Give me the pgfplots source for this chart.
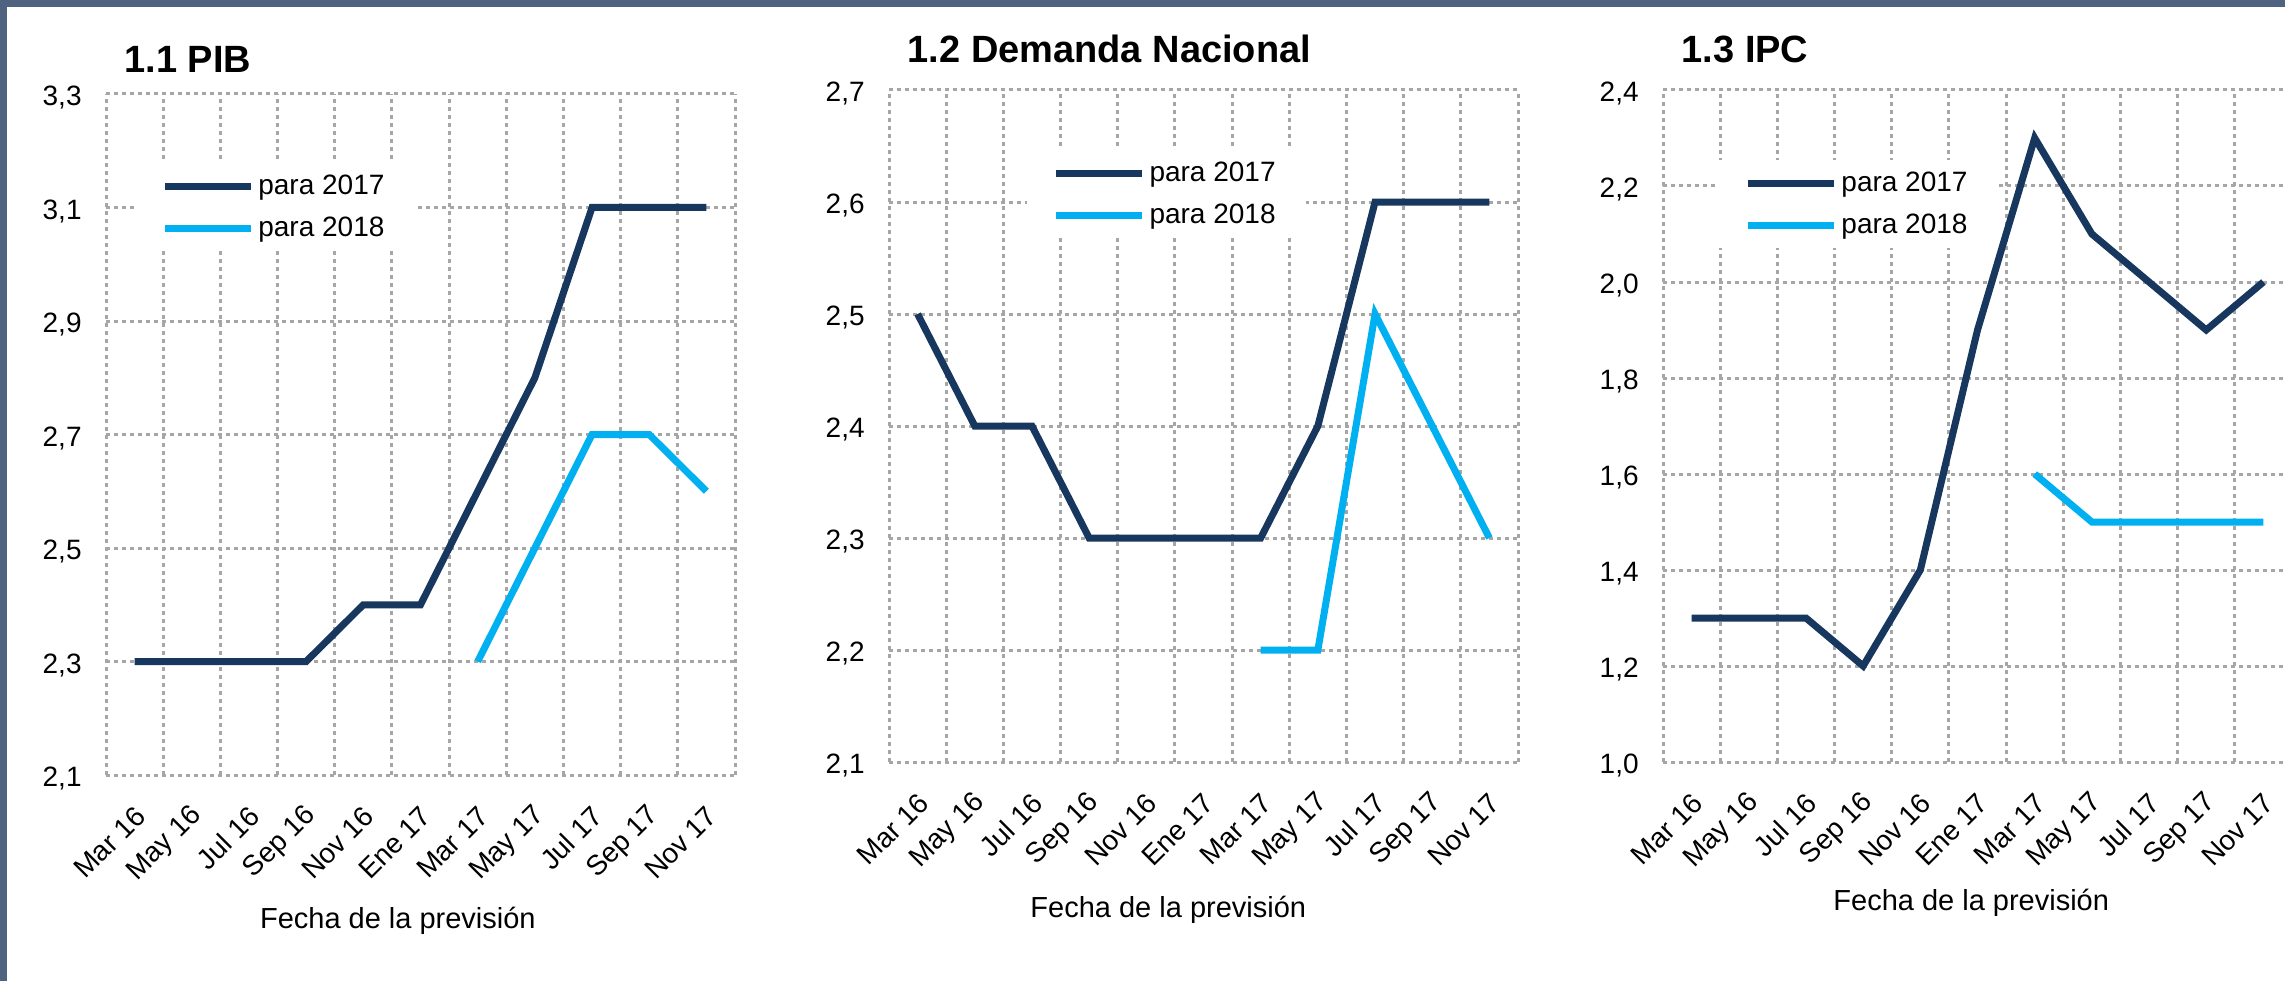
\documentclass[border=0pt]{standalone}
\usepackage{fontspec}
\setmainfont{Liberation Sans}
\usepackage{pgfplots}
\pgfplotsset{compat=1.18}
\definecolor{navy}{RGB}{23,55,94}
\definecolor{celeste}{RGB}{0,176,240}
\definecolor{marco}{RGB}{79,98,128}

\pgfplotsset{
  panel/.style={
    scale only axis, width=314.5pt, anchor=south west,
    xmin=-0.5, xmax=10.5,
    xtick={0,...,10},
    xticklabels={Mar 16,May 16,Jul 16,Sep 16,Nov 16,Ene 17,Mar 17,May 17,Jul 17,Sep 17,Nov 17},
    minor xtick={-0.5,0.5,...,10.5},
    xminorgrids=true, ymajorgrids=true,
    grid style={black!35, line width=1.5pt, dash pattern=on 2pt off 2pt},
    minor grid style={black!35, line width=1.5pt, dash pattern=on 2pt off 2pt},
    axis line style={draw=none},
    major tick length=0pt, minor tick length=0pt,
    tick label style={font=\fontsize{14}{16}\selectfont},
    xticklabel style={xshift=3pt, yshift=-18pt, rotate=45, anchor=east, inner sep=0pt},
    yticklabel style={anchor=east, inner sep=0pt, xshift=-12pt, yshift=-2pt,
      /pgf/number format/.cd, fixed, fixed zerofill, precision=1, use comma,
      assume math mode=true, /tikz/.cd},
    xlabel={Fecha de la previsión},
    label style={font=\fontsize{14.5}{17}\selectfont},
    every axis title shift=0pt,
    legend style={draw=none, fill=white, anchor=north west,
      font=\fontsize{14}{16}\selectfont, inner xsep=13pt, inner ysep=4pt,
      row sep=5.5pt, cells={anchor=west}},
    legend image code/.code={\draw[#1] (0pt,0pt) -- (43pt,0pt);},
    every axis plot/.append style={line width=3.5pt},
  },
  ptitle/.style 2 args={title={#1},
    title style={at={(axis description cs:0.029,1)}, anchor=base west,
      inner sep=0pt, yshift=#2, font=\bfseries\fontsize{19}{22}\selectfont}},
  plabel/.style 2 args={xlabel style={at={(axis description cs:#1,0)},
      anchor=base, inner sep=0pt, yshift=#2}},
}

\begin{document}
\begin{tikzpicture}
\path[use as bounding box] (0,0) rectangle (1142.5pt,490.5pt);
\clip (0,0) rectangle (1142.5pt,490.5pt);

% 1.1 PIB
\begin{axis}[panel, at={(53pt,103pt)}, height=340.5pt,
  ymin=2.1, ymax=3.3, ytick={2.1,2.3,2.5,2.7,2.9,3.1,3.3},
  ptitle={1.1 PIB}{10.5pt}, plabel={0.464}{-76.5pt},
  legend style={at={(0.046,0.899)}}]
\addplot[navy] coordinates {(0,2.3)(1,2.3)(2,2.3)(3,2.3)(4,2.4)(5,2.4)(6,2.6)(7,2.8)(8,3.1)(9,3.1)(10,3.1)};
\addlegendentry{para 2017}
\addplot[celeste] coordinates {(6,2.3)(7,2.5)(8,2.7)(9,2.7)(10,2.6)};
\addlegendentry{para 2018}
\end{axis}

% 1.2 Demanda Nacional
\begin{axis}[panel, at={(444.5pt,109.5pt)}, height=336pt,
  ymin=2.1, ymax=2.7, ytick={2.1,2.2,2.3,2.4,2.5,2.6,2.7},
  ptitle={1.2 Demanda Nacional}{13.5pt}, plabel={0.444}{-77.5pt},
  legend style={at={(0.218,0.911)}}]
\addplot[navy] coordinates {(0,2.5)(1,2.4)(2,2.4)(3,2.3)(4,2.3)(5,2.3)(6,2.3)(7,2.4)(8,2.6)(9,2.6)(10,2.6)};
\addlegendentry{para 2017}
\addplot[celeste] coordinates {(6,2.2)(7,2.2)(8,2.5)(9,2.4)(10,2.3)};
\addlegendentry{para 2018}
\end{axis}

% 1.3 IPC
\begin{axis}[panel, at={(831.5pt,109.5pt)}, height=336pt,
  ymin=1.0, ymax=2.4, ytick={1.0,1.2,1.4,1.6,1.8,2.0,2.2,2.4},
  ptitle={1.3 IPC}{13.5pt}, plabel={0.49}{-74pt},
  legend style={at={(0.0875,0.896)}}]
\addplot[navy] coordinates {(0,1.3)(1,1.3)(2,1.3)(3,1.2)(4,1.4)(5,1.9)(6,2.3)(7,2.1)(8,2.0)(9,1.9)(10,2.0)};
\addlegendentry{para 2017}
\addplot[celeste] coordinates {(6,1.6)(7,1.5)(8,1.5)(9,1.5)(10,1.5)};
\addlegendentry{para 2018}
\end{axis}

\fill[marco] (0,0) rectangle (3.5pt,490.5pt);
\fill[marco] (0,487pt) rectangle (1142.5pt,490.5pt);
\end{tikzpicture}
\end{document}
